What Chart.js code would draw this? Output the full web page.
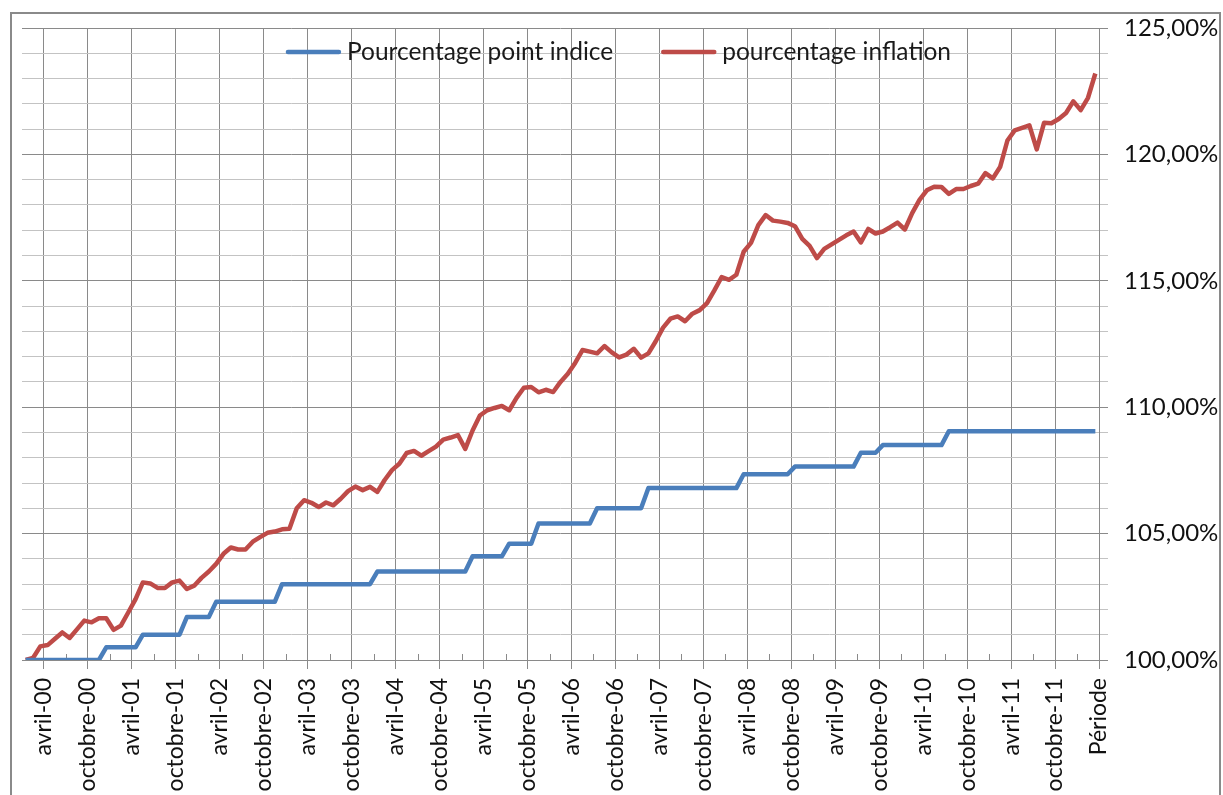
<!DOCTYPE html>
<html lang="fr">
<head>
<meta charset="utf-8">
<title>Point d'indice et inflation</title>
<script src="https://cdn.jsdelivr.net/npm/chart.js@4.4.1/dist/chart.umd.min.js"></script>
<style>
    html, body { margin: 0; padding: 0; background: #fff; overflow: hidden; }
    #cadre {
        position: absolute; left: 10px; top: 12px;
        width: 1207px; height: 900px;
        border: 2px solid #8a8a8a;
        pointer-events: none;
    }
    canvas { position: absolute; left: 0; top: 0; }
</style>
</head>
<body>
<canvas id="graphique" width="1223" height="795"></canvas>
<div id="cadre"></div>
<script>
// libellés affichés sous l'axe (un tous les 6 mois, à partir d'avril 2000)
const tickLabels = [
    'avril-00', 'octobre-00', 'avril-01', 'octobre-01', 'avril-02', 'octobre-02',
    'avril-03', 'octobre-03', 'avril-04', 'octobre-04', 'avril-05', 'octobre-05',
    'avril-06', 'octobre-06', 'avril-07', 'octobre-07', 'avril-08', 'octobre-08',
    'avril-09', 'octobre-09', 'avril-10', 'octobre-10', 'avril-11', 'octobre-11',
    'Période'
];

// une valeur par mois, de janvier 2000 à mars 2012
const pointIndice = [
    100, 100, 100, 100, 100, 100, 100, 100, 100, 100, 100, 100.5,
    100.5, 100.5, 100.5, 100.5, 101, 101, 101, 101, 101, 101, 101.7, 101.7,
    101.7, 101.7, 102.3, 102.3, 102.3, 102.3, 102.3, 102.3, 102.3, 102.3, 102.3, 103,
    103, 103, 103, 103, 103, 103, 103, 103, 103, 103, 103, 103,
    103.5, 103.5, 103.5, 103.5, 103.5, 103.5, 103.5, 103.5, 103.5, 103.5, 103.5, 103.5,
    103.5, 104.1, 104.1, 104.1, 104.1, 104.1, 104.6, 104.6, 104.6, 104.6, 105.4, 105.4,
    105.4, 105.4, 105.4, 105.4, 105.4, 105.4, 106, 106, 106, 106, 106, 106,
    106, 106.8, 106.8, 106.8, 106.8, 106.8, 106.8, 106.8, 106.8, 106.8, 106.8, 106.8,
    106.8, 106.8, 107.35, 107.35, 107.35, 107.35, 107.35, 107.35, 107.35, 107.65, 107.65, 107.65,
    107.65, 107.65, 107.65, 107.65, 107.65, 107.65, 108.2, 108.2, 108.2, 108.5, 108.5, 108.5,
    108.5, 108.5, 108.5, 108.5, 108.5, 108.5, 109.05, 109.05, 109.05, 109.05, 109.05, 109.05,
    109.05, 109.05, 109.05, 109.05, 109.05, 109.05, 109.05, 109.05, 109.05, 109.05, 109.05, 109.05,
    109.05, 109.05, 109.05
];

const inflation = [
    100.0, 100.08, 100.54, 100.59, 100.84, 101.09, 100.87, 101.21, 101.56, 101.49, 101.65, 101.65,
    101.19, 101.36, 101.88, 102.41, 103.07, 103.03, 102.85, 102.85, 103.07, 103.14, 102.81, 102.94,
    103.25, 103.5, 103.8, 104.2, 104.45, 104.37, 104.37, 104.68, 104.86, 105.03, 105.08, 105.17,
    105.19, 106.0, 106.32, 106.22, 106.05, 106.23, 106.12, 106.38, 106.68, 106.86, 106.72, 106.85,
    106.65, 107.12, 107.51, 107.76, 108.19, 108.27, 108.08, 108.26, 108.44, 108.72, 108.8, 108.9,
    108.35, 109.08, 109.67, 109.88, 109.97, 110.05, 109.88, 110.37, 110.77, 110.8, 110.59, 110.69,
    110.6, 111.0, 111.32, 111.75, 112.26, 112.2, 112.13, 112.42, 112.17, 111.97, 112.08, 112.31,
    111.96, 112.13, 112.61, 113.15, 113.5, 113.59, 113.4, 113.7, 113.84, 114.12, 114.62, 115.15,
    115.04, 115.24, 116.15, 116.5, 117.2, 117.6, 117.38, 117.34, 117.29, 117.16, 116.66, 116.38,
    115.9, 116.26, 116.44, 116.62, 116.8, 116.95, 116.52, 117.05, 116.87, 116.95, 117.12, 117.3,
    117.03, 117.68, 118.2, 118.58, 118.72, 118.71, 118.44, 118.63, 118.63, 118.75, 118.84, 119.26,
    119.05, 119.5, 120.55, 120.95, 121.05, 121.15, 120.2, 121.25, 121.23, 121.4, 121.64, 122.1,
    121.75, 122.24, 123.2
];

const couleurGrille = '#8a8a8a';
const couleurGrilleMineure = '#c3c3c3';
const couleurTexte = '#111';

Chart.defaults.font.family = 'Lato';
Chart.defaults.font.size = 23;
Chart.defaults.color = couleurTexte;

// repères : graduations principales tous les 6 mois, secondaires entre deux
const nbMois = inflation.length;
const graduations = tickLabels.map((_, k) => 3 + 6 * k);
const graduationsMineures = graduations.slice(0, -1).map(v => v + 3);

// légende façon Excel, posée en haut de la zone de tracé (sans fond)
const legendeExcel = {
    id: 'legendeExcel',
    beforeDatasetsDraw(chart) {
        const { ctx, chartArea } = chart;
        const longTrait = 55, ecart = 6, entre = 48;
        ctx.save();
        ctx.font = '24.5px Lato';
        const items = chart.data.datasets.map(ds => ({ ds, w: ctx.measureText(ds.label).width }));
        const total = items.reduce((s, it) => s + longTrait + ecart + it.w, 0) + entre * (items.length - 1);
        let x = chart.width / 2 + 7 - total / 2;
        const y = chartArea.top + 24;
        items.forEach(it => {
            ctx.strokeStyle = it.ds.borderColor;
            ctx.lineWidth = it.ds.borderWidth;
            ctx.lineCap = 'round';
            ctx.beginPath();
            ctx.moveTo(x + 2, y);
            ctx.lineTo(x + longTrait - 2, y);
            ctx.stroke();
            ctx.fillStyle = '#1a1a1a';
            ctx.textBaseline = 'alphabetic';
            ctx.fillText(it.ds.label, x + longTrait + ecart, y + 8);
            x += longTrait + ecart + it.w + entre;
        });
        ctx.restore();
    }
};

// petites graduations vers l'intérieur
const tiretsMineurs = {
    id: 'tiretsMineurs',
    beforeDatasetsDraw(chart) {
        const { ctx, chartArea } = chart;
        const x = chart.scales.x;
        ctx.save();
        ctx.strokeStyle = couleurGrille;
        ctx.lineWidth = 1;
        ctx.beginPath();
        graduationsMineures.forEach(v => {
            const px = Math.round(x.getPixelForValue(v)) + 0.5;
            ctx.moveTo(px, chartArea.bottom);
            ctx.lineTo(px, chartArea.bottom - 6);
        });
        ctx.stroke();
        ctx.restore();
    }
};

const ctx = document.getElementById('graphique').getContext('2d');
new Chart(ctx, {
    type: 'line',
    data: {
        datasets: [
            {
                label: 'Pourcentage point indice',
                data: pointIndice.map((v, i) => ({ x: i + 0.5, y: v })),
                borderColor: '#4a7ebb',
                backgroundColor: '#4a7ebb',
                borderWidth: 4.5,
                pointRadius: 0,
                tension: 0,
                borderJoinStyle: 'round'
            },
            {
                label: 'pourcentage inflation',
                data: inflation.map((v, i) => ({ x: i + 0.5, y: v })),
                borderColor: '#be4b48',
                backgroundColor: '#be4b48',
                borderWidth: 4.5,
                pointRadius: 0,
                tension: 0,
                borderJoinStyle: 'round'
            }
        ]
    },
    options: {
        responsive: false,
        animation: false,
        devicePixelRatio: 1,
        layout: { padding: { left: 22, top: 28, right: 0, bottom: 0 } },
        plugins: {
            legend: { display: false },
            tooltip: { enabled: false }
        },
        scales: {
            x: {
                type: 'linear',
                min: 0,
                max: nbMois,
                afterBuildTicks(scale) {
                    scale.ticks = graduations.map(v => ({ value: v }));
                },
                afterFit(scale) {
                    scale.height = 135;
                },
                grid: {
                    color: couleurGrille,
                    tickLength: 9
                },
                border: { color: couleurGrille },
                ticks: {
                    autoSkip: false,
                    minRotation: 90,
                    maxRotation: 90,
                    padding: 9,
                    callback: (v, i) => tickLabels[i]
                }
            },
            y: {
                position: 'right',
                min: 100,
                max: 125,
                afterFit(scale) {
                    scale.width = 124;
                },
                grid: {
                    color: c => (c.tick && c.tick.value % 5 === 0) ? couleurGrille : couleurGrilleMineure,
                    tickLength: 9
                },
                border: { color: couleurGrille },
                ticks: {
                    autoSkip: false,
                    stepSize: 1,
                    padding: 16,
                    font: { size: 24, lineHeight: 1 },
                    callback: v => v % 5 === 0 ? v.toFixed(2).replace('.', ',') + '%' : ''
                }
            }
        }
    },
    plugins: [legendeExcel, tiretsMineurs]
});
</script>
</body>
</html>
